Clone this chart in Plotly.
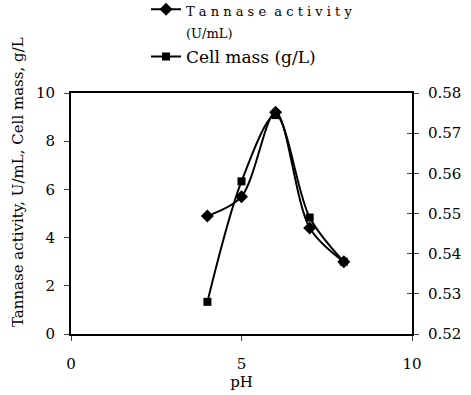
import plotly.graph_objects as go

ph = [4, 5, 6, 7, 8]
tannase = [4.9, 5.7, 9.2, 4.4, 3.0]
cell_mass = [0.528, 0.558, 0.5745, 0.549, 0.538]

x_ticks = [0, 5, 10]
left_ticks = [0, 2, 4, 6, 8, 10]
right_ticks = [0.52, 0.53, 0.54, 0.55, 0.56, 0.57, 0.58]

FONT = "DejaVu Serif"

fig = go.Figure()
fig.add_trace(go.Scatter(
    x=ph, y=tannase, mode="lines+markers",
    name="<span style='font-size:13px'>T a n n a s e  a c t i v i t y<br>(U/mL)</span>",
    line=dict(color="black", width=2, shape="spline", smoothing=0.9),
    marker=dict(symbol="diamond", size=10, color="black"),
    yaxis="y"))
fig.add_trace(go.Scatter(
    x=ph, y=cell_mass, mode="lines+markers", name="Cell mass (g/L)",
    line=dict(color="black", width=2, shape="spline", smoothing=0.9),
    marker=dict(symbol="square", size=8, color="black"),
    yaxis="y2"))
fig.add_trace(go.Scatter(x=[None], y=[None], yaxis="y3", showlegend=False,
                         hoverinfo="skip"))

fig.update_layout(
    width=471, height=395,
    margin=dict(l=71, r=59, t=93, b=61, autoexpand=False),
    paper_bgcolor="white", plot_bgcolor="white",
    font=dict(family=FONT, size=15, color="black"),
    showlegend=True,
    legend=dict(x=0.22, y=1.42, xanchor="left", yanchor="top",
                font=dict(size=17, family=FONT), bgcolor="rgba(0,0,0,0)",
                tracegroupgap=0, valign="top"),
    xaxis=dict(range=[0, 10], tickvals=x_ticks, ticks="outside", ticklen=5,
               tickwidth=1, showline=True, linecolor="black", linewidth=2,
               mirror=True, showgrid=False, zeroline=False,
               ticklabelstandoff=10, tickfont=dict(family=FONT, size=15),
               title=dict(text="pH", standoff=0, font=dict(family=FONT, size=15))),
    yaxis=dict(range=[0, 10], tickvals=left_ticks, ticks="outside", ticklen=5,
               showline=True, linecolor="black", linewidth=2, showgrid=False,
               zeroline=False, ticklabelstandoff=6,
               tickfont=dict(family=FONT, size=15)),
    yaxis2=dict(range=[0.52, 0.58], tickvals=right_ticks, tickformat=".2f",
                ticks="outside", ticklen=5, overlaying="y", side="right",
                showline=True, linecolor="black", linewidth=2, showgrid=False,
                zeroline=False, ticklabelstandoff=6,
                tickfont=dict(family=FONT, size=15)),
    yaxis3=dict(range=[0.52, 0.58], tickvals=right_ticks, ticks="inside",
                ticklen=5, overlaying="y", side="right", showticklabels=False,
                showline=False, showgrid=False, zeroline=False),
    annotations=[dict(text="Tannase activity, U/mL, Cell mass, g/L",
                      textangle=-90, xref="paper", yref="paper",
                      x=-0.188, y=0.63, showarrow=False,
                      font=dict(family=FONT, size=15))],
)

fig.write_html("out.html")
